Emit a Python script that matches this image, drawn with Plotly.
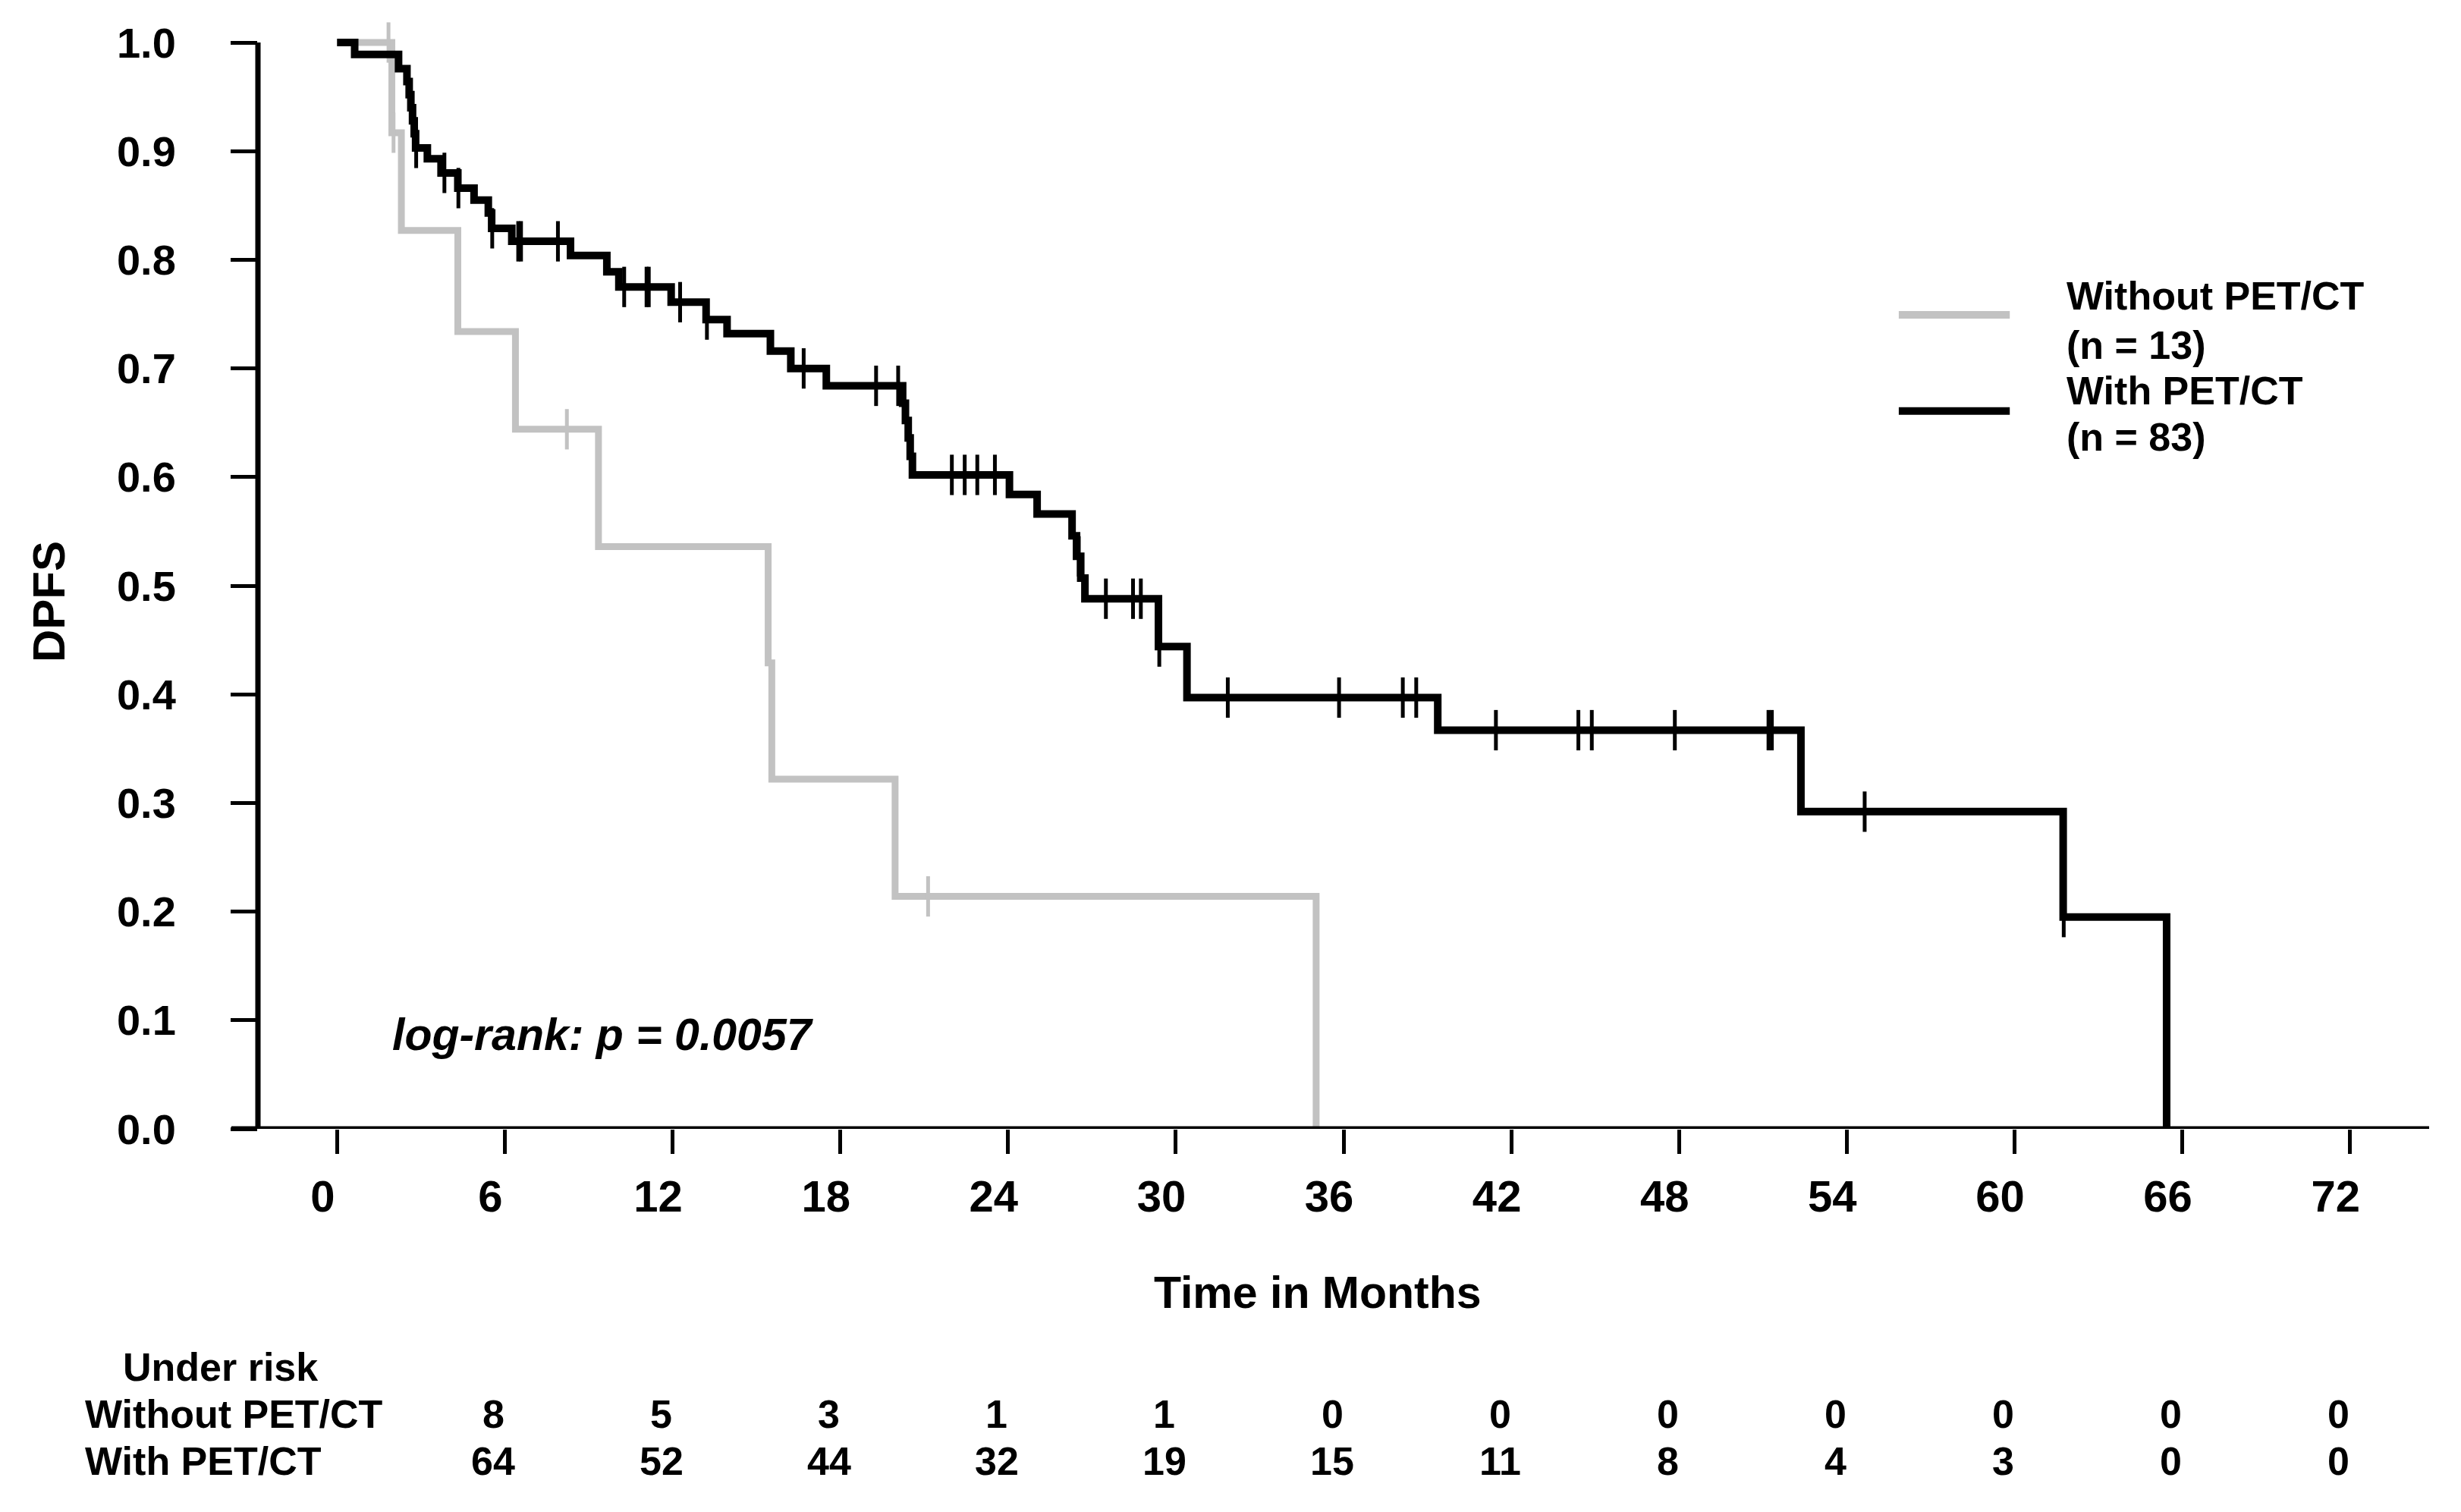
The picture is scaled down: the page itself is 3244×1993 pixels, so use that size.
import numpy as np
import plotly.graph_objects as go

# ---------------- data ----------------
x_ticks = [0, 6, 12, 18, 24, 30, 36, 42, 48, 54, 60, 66, 72]
y_ticks = [0.0, 0.1, 0.2, 0.3, 0.4, 0.5, 0.6, 0.7, 0.8, 0.9, 1.0]

# With PET/CT (n = 83): step times and survival after each step
with_times = [0, 0.63, 2.20, 2.50, 2.58, 2.64, 2.70, 2.76, 2.81, 3.23, 3.72, 4.32, 4.90,
              5.41, 5.53, 6.25, 8.35, 9.65, 10.08, 11.95, 13.2, 13.95, 15.5, 16.23, 17.5,
              20.23, 20.33, 20.43, 20.5, 20.58, 24.05, 25.04, 26.29, 26.45, 26.6, 26.75,
              29.38, 30.40, 39.37, 52.36, 61.74, 65.44]
with_surv = [1.0, 0.989, 0.976, 0.964, 0.952, 0.940, 0.928, 0.916, 0.903, 0.893, 0.880,
             0.866, 0.855, 0.843, 0.829, 0.817, 0.804, 0.789, 0.775, 0.761, 0.745, 0.732,
             0.716, 0.700, 0.684, 0.668, 0.652, 0.636, 0.619, 0.602, 0.584, 0.566, 0.546,
             0.527, 0.507, 0.488, 0.444, 0.397, 0.367, 0.292, 0.195, 0.0]
with_censor = [2.83, 3.84, 4.34, 5.55, 6.48, 6.58, 7.9, 10.27, 11.07, 11.15, 12.27, 13.23,
               16.69, 19.28, 20.07, 21.99, 22.45, 22.9, 23.53, 26.53, 27.5, 28.47, 28.75,
               29.41, 31.86, 35.84, 38.12, 38.6, 41.45, 44.4, 44.88, 47.85, 51.2, 51.32,
               54.64, 61.76]

# Without PET/CT (n = 13)
without_times = [0, 1.96, 2.3, 4.32, 6.38, 9.35, 15.42, 15.55, 19.96, 35.02]
without_surv = [1.0, 0.917, 0.827, 0.734, 0.644, 0.536, 0.429, 0.322, 0.214, 0.0]
without_censor = [1.84, 2.02, 8.22, 21.14]

# Numbers under risk
risk_months = [6, 12, 18, 24, 30, 36, 42, 48, 54, 60, 66, 72]
risk_without = [8, 5, 3, 1, 1, 0, 0, 0, 0, 0, 0, 0]
risk_with = [64, 52, 44, 32, 19, 15, 11, 8, 4, 3, 0, 0]

legend_labels = [["Without PET/CT", "(n = 13)"], ["With PET/CT", "(n = 83)"]]
row_labels = ["Under risk", "Without PET/CT", "With PET/CT"]

# ---------------- layout geometry (page pixels of the reference) ----------------
OFF = 8                      # page body margin
PAGE_W, PAGE_H = 3244, 1993
PL, PR, PT, PB = 340, 3202, 39, 1488      # plot area edges on the page
W, H = PAGE_W - OFF, PAGE_H - OFF
L, R, T, B = PL - OFF, W - (PR - OFF), PT - OFF, H - (PB - OFF)
XR = [-2.83, 74.83]
YR = [0, 1.0119]

FONT = "Liberation Sans, Arial, sans-serif"
GRAY = "rgb(194,194,194)"
BLACK = "black"


def surv_at(times, surv, t):
    i = np.searchsorted(times, t, side="right") - 1
    return surv[i]


def paper_x(px):
    return (px - PL) / (PR - PL)


def paper_y(py):
    return (PB - py) / (PB - PT)


fig = go.Figure()

groups = [
    (without_times, without_surv, without_censor, GRAY, 9, 5),
    (with_times, with_surv, with_censor, BLACK, 10, 5),
]
for times, surv, cens, col, lw, mw in groups:
    fig.add_trace(go.Scatter(x=times, y=surv, mode="lines",
                             line=dict(shape="hv", color=col, width=lw),
                             showlegend=False, hoverinfo="skip"))
    fig.add_trace(go.Scatter(x=cens, y=[surv_at(times, surv, c) for c in cens],
                             mode="markers", cliponaxis=False,
                             marker=dict(symbol="line-ns", size=38, color=col,
                                         line=dict(color=col, width=mw)),
                             showlegend=False, hoverinfo="skip"))

shapes = [
    # y-axis line
    dict(type="line", xref="paper", yref="y", x0=0, x1=0, y0=-0.0025, y1=1.0,
         line=dict(color=BLACK, width=7)),
    # x-axis line (runs out to the end of the 0.0 tick)
    dict(type="line", xref="paper", yref="y", x0=paper_x(305), x1=1, y0=0, y1=0,
         line=dict(color=BLACK, width=7)),
    # legend lines
    dict(type="line", xref="x", yref="y", x0=55.86, x1=59.83, y0=0.7493, y1=0.7493,
         line=dict(color=GRAY, width=10)),
    dict(type="line", xref="x", yref="y", x0=55.86, x1=59.83, y0=0.6608, y1=0.6608,
         line=dict(color=BLACK, width=10)),
]

ann = []
bold = dict(family=FONT, color="black", weight="bold")

# legend text
leg_y = [0.7668, 0.7214, 0.6797, 0.6370]
k = 0
for pair in legend_labels:
    for line in pair:
        ann.append(dict(x=61.80, y=leg_y[k], xref="x", yref="y", text=line,
                        xanchor="left", yanchor="middle", showarrow=False,
                        font=dict(size=52, **bold)))
        k += 1

# log-rank text
ann.append(dict(x=paper_x(515), y=paper_y(1364), xref="paper", yref="paper",
                text="<i>log-rank: p = 0.0057</i>", xanchor="left", yanchor="middle",
                showarrow=False, font=dict(size=59, **bold)))

# axis titles
ann.append(dict(x=paper_x(1737), y=paper_y(1704), xref="paper", yref="paper",
                text="Time in Months", xanchor="center", yanchor="middle",
                showarrow=False, font=dict(size=59, **bold)))
ann.append(dict(x=paper_x(64), y=paper_y(793), xref="paper", yref="paper",
                text="DPFS", textangle=-90, xanchor="center", yanchor="middle",
                showarrow=False, font=dict(size=60, **bold)))

# under-risk table
ann.append(dict(x=paper_x(160), y=paper_y(1802), xref="paper", yref="paper",
                text=row_labels[0], xanchor="left", yanchor="middle", showarrow=False,
                font=dict(size=52, **bold)))
for lab, py in zip(row_labels[1:], [1864, 1926]):
    ann.append(dict(x=paper_x(110), y=paper_y(py), xref="paper", yref="paper",
                    text=lab, xanchor="left", yanchor="middle", showarrow=False,
                    font=dict(size=52, **bold)))
for vals, py in [(risk_without, 1864), (risk_with, 1926)]:
    for m, v in zip(risk_months, vals):
        ann.append(dict(x=m, y=paper_y(py), xref="x", yref="paper", text=str(v),
                        xanchor="center", yanchor="middle", xshift=-15, showarrow=False,
                        font=dict(size=52, **bold)))

fig.update_layout(
    width=W, height=H,
    margin=dict(l=L, r=R, t=T, b=B, autoexpand=False),
    paper_bgcolor="white", plot_bgcolor="white",
    shapes=shapes, annotations=ann,
    xaxis=dict(range=XR, tickvals=x_ticks, ticks="outside", ticklen=32, tickwidth=5,
               tickcolor=BLACK, showline=False, showgrid=False, zeroline=False,
               automargin=False, ticklabelshift=-19, ticklabelstandoff=6,
               tickfont=dict(size=58, **bold)),
    yaxis=dict(range=YR, tickvals=y_ticks, tickformat=".1f", ticks="outside", ticklen=35,
               tickwidth=5, tickcolor=BLACK, showline=False, showgrid=False,
               zeroline=False, automargin=False, ticklabelstandoff=61,
               tickfont=dict(size=56, **bold)),
)

fig.write_html("out.html")
